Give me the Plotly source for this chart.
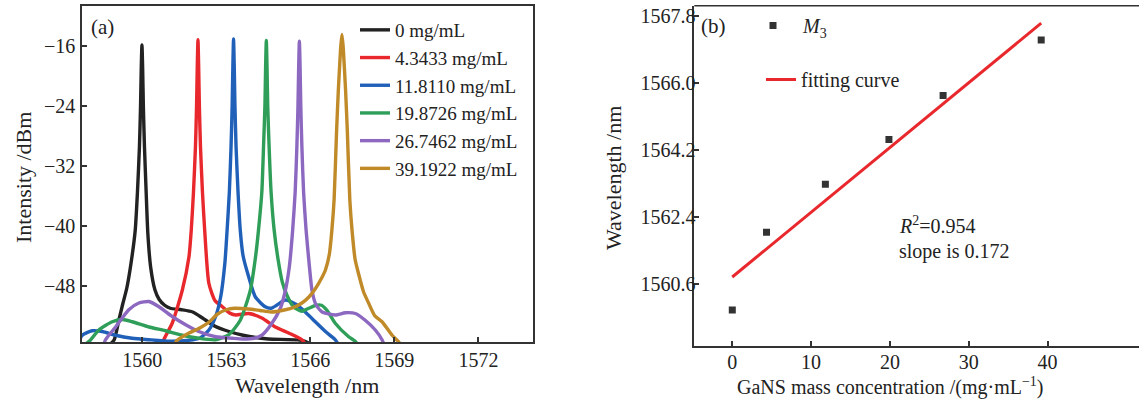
import numpy as np
import plotly.graph_objects as go

W, H = 1139, 401
FONT = "Liberation Serif"

# ---------------- panel (a): spectra ----------------
series_names = ["0 mg/mL", "4.3433 mg/mL", "11.8110 mg/mL", "19.8726 mg/mL", "26.7462 mg/mL", "39.1922 mg/mL"]
series_colors = ["#222222", "#e8282c", "#2060b8", "#2e9e58", "#8c68c0", "#c08a28"]

wl_0 = [1558.50, 1558.80, 1559.00, 1559.17, 1559.30, 1559.45, 1559.60, 1559.75, 1559.83, 1559.90, 1559.94, 1559.965,
        1559.99, 1560.015, 1560.04, 1560.08, 1560.14, 1560.20, 1560.30, 1560.45, 1560.60, 1560.80, 1561.00, 1561.40,
        1561.80, 1562.15, 1562.60, 1563.10, 1563.60, 1564.50, 1565.70, 1566.40]
int_0 = [-57.0, -56.0, -55.2, -52.5, -50.5, -48.3, -45.0, -40.6, -35.5, -29.5, -24.0, -19.0,
         -15.9, -19.0, -24.0, -29.5, -35.5, -41.0, -45.5, -48.5, -49.8, -50.6, -51.0, -51.2,
         -51.5, -52.3, -53.4, -54.1, -54.6, -55.1, -55.3, -56.5]

wl_1 = [1560.70, 1560.77, 1561.07, 1561.43, 1561.67, 1561.75, 1561.83, 1561.90, 1561.94, 1561.965, 1561.99,
        1562.015, 1562.04, 1562.08, 1562.15, 1562.23, 1562.38, 1562.60, 1562.86, 1563.10, 1563.33, 1563.80,
        1564.27, 1564.75, 1565.23, 1565.70, 1565.95]
int_1 = [-56.5, -55.2, -53.0, -48.6, -44.1, -40.6, -35.5, -29.5, -24.0, -18.8, -15.2,
         -18.8, -24.0, -29.5, -35.5, -40.6, -47.7, -50.0, -50.8, -51.6, -51.9, -51.7,
         -52.3, -53.5, -54.3, -55.2, -56.5]

wl_2 = [1557.70, 1557.86, 1558.21, 1558.57, 1559.05, 1559.64, 1560.24, 1561.00, 1561.60, 1562.05, 1562.38,
        1562.62, 1562.80, 1562.95, 1563.03, 1563.11, 1563.17, 1563.21, 1563.235, 1563.26, 1563.285, 1563.31,
        1563.35, 1563.42, 1563.50, 1563.60, 1563.80, 1564.04, 1564.39, 1564.60, 1564.80, 1565.10, 1565.30,
        1565.50, 1565.82, 1566.18, 1566.54, 1566.89, 1567.10]
int_2 = [-55.8, -54.6, -54.0, -54.1, -54.6, -55.0, -55.2, -55.4, -55.3, -55.0, -53.9,
         -52.1, -49.5, -45.0, -40.6, -35.5, -29.5, -24.0, -18.8, -15.1, -18.8, -24.0,
         -29.5, -35.5, -40.6, -44.0, -46.8, -49.5, -50.8, -51.0, -50.6, -49.9, -50.1,
         -50.5, -51.5, -52.8, -54.1, -55.2, -56.5]

wl_3 = [1557.90, 1558.14, 1558.45, 1558.93, 1559.30, 1559.64, 1560.24, 1560.83, 1561.43, 1562.02, 1562.62,
        1563.10, 1563.50, 1563.86, 1564.05, 1564.15, 1564.27, 1564.33, 1564.38, 1564.405, 1564.43, 1564.455,
        1564.48, 1564.53, 1564.60, 1564.71, 1564.85, 1565.00, 1565.17, 1565.40, 1565.70, 1565.95, 1566.20,
        1566.40, 1566.60, 1566.89, 1567.37, 1567.60, 1567.80]
int_3 = [-56.0, -55.3, -53.9, -52.8, -52.5, -52.8, -53.5, -54.0, -54.6, -55.0, -55.2,
         -54.5, -52.6, -48.6, -44.0, -40.6, -35.5, -29.5, -24.0, -18.8, -15.3, -18.8,
         -24.0, -29.5, -35.5, -40.6, -44.5, -47.5, -49.3, -50.8, -51.4, -51.0, -50.6,
         -50.6, -51.3, -53.0, -54.8, -55.4, -56.5]

wl_4 = [1558.60, 1558.69, 1559.05, 1559.52, 1559.88, 1560.24, 1560.60, 1561.07, 1561.55, 1562.02, 1562.62,
        1563.21, 1563.60, 1564.00, 1564.27, 1564.63, 1564.93, 1565.10, 1565.25, 1565.37, 1565.46, 1565.52,
        1565.56, 1565.585, 1565.61, 1565.635, 1565.66, 1565.70, 1565.76, 1565.85, 1565.97, 1566.06, 1566.20,
        1566.42, 1566.89, 1567.25, 1567.61, 1567.96, 1568.32, 1568.56, 1568.70]
int_4 = [-56.2, -55.2, -53.5, -51.2, -50.3, -50.1, -50.8, -52.1, -53.2, -54.1, -54.8,
         -55.0, -55.1, -55.0, -54.6, -53.0, -51.0, -48.8, -45.5, -40.6, -35.5, -29.5,
         -24.0, -18.8, -15.4, -18.8, -24.0, -29.5, -35.5, -40.6, -45.5, -48.6, -50.5,
         -51.5, -51.9, -51.6, -51.7, -52.6, -53.9, -55.2, -56.5]

wl_5 = [1561.10, 1561.24, 1561.67, 1562.07, 1562.40, 1562.68, 1563.00, 1563.30, 1563.80, 1564.21, 1564.60,
        1565.11, 1565.40, 1565.70, 1565.95, 1566.18, 1566.40, 1566.54, 1566.68, 1566.77, 1566.85, 1566.94,
        1567.00, 1567.05, 1567.09, 1567.13, 1567.17, 1567.21, 1567.26, 1567.32, 1567.41, 1567.49, 1567.60,
        1567.73, 1567.90, 1568.08, 1568.30, 1568.56, 1568.92, 1569.16, 1569.35]
int_5 = [-56.2, -55.3, -54.3, -53.6, -52.8, -51.8, -51.2, -51.0, -51.1, -51.3, -51.5,
         -51.2, -50.9, -50.3, -49.5, -48.4, -47.0, -45.9, -43.8, -40.6, -36.5, -27.2,
         -22.0, -18.5, -16.0, -14.5, -16.0, -18.5, -22.0, -27.2, -36.5, -40.6, -44.5,
         -46.5, -48.8, -50.3, -52.0, -52.8, -54.6, -55.5, -56.5]

spectra_wl = [wl_0, wl_1, wl_2, wl_3, wl_4, wl_5]
spectra_int = [int_0, int_1, int_2, int_3, int_4, int_5]

# ---------------- panel (b): peak shift ----------------
concentration = [0.0, 4.3433, 11.8110, 19.8726, 26.7462, 39.1922]
peak_wavelength = [1559.91, 1561.99, 1563.28, 1564.48, 1565.66, 1567.15]

a_tickvals = [-48, -40, -32, -24, -16]
a_xtickvals = [1560, 1563, 1566, 1569, 1572]
b_ytickvals = [1560.6, 1562.4, 1564.2, 1566.0, 1567.8]
b_xtickvals = [0, 10, 20, 30, 40]


def px(x):
    return x / W


def py(y):
    return 1 - y / H


fig = go.Figure()
for wl, it, nm, col in zip(spectra_wl, spectra_int, series_names, series_colors):
    fig.add_trace(go.Scatter(x=wl, y=it, mode="lines", name=nm,
                             line=dict(color=col, width=3.4, shape="spline", smoothing=0.6),
                             xaxis="x", yaxis="y", legend="legend"))

fig.add_trace(go.Scatter(x=concentration, y=peak_wavelength, mode="markers",
                         name="\u00a0\u00a0<i>M</i><sub>3</sub>",
                         marker=dict(symbol="square", size=7, color="#333333"),
                         xaxis="x2", yaxis="y2", legend="legend2"))

slope, intercept = np.polyfit(concentration, peak_wavelength, 1)
fit_x = [min(concentration), max(concentration)]
fit_y = [slope * v + intercept for v in fit_x]
fig.add_trace(go.Scatter(x=fit_x, y=fit_y, mode="lines", name="fitting curve",
                         line=dict(color="#e8282c", width=3),
                         xaxis="x2", yaxis="y2", legend="legend3"))

axis_common = dict(showline=True, linecolor="#333333", linewidth=1.5, ticks="inside", ticklen=5,
                   tickwidth=1.5, tickcolor="#333333", showgrid=False, zeroline=False,
                   tickfont=dict(family=FONT, size=20, color="#222222"))

leg_font = dict(family=FONT, size=19, color="#222222")

fig.update_layout(
    width=W, height=H,
    margin=dict(l=0, r=0, t=0, b=0),
    paper_bgcolor="white", plot_bgcolor="white",
    xaxis=dict(domain=[px(82), px(533)], range=[1557.85, 1573.95], tickvals=a_xtickvals,
               mirror=True, anchor="y", ticklabelstandoff=-1, **axis_common),
    yaxis=dict(domain=[py(342), py(6)], range=[-55.5, -10.7], tickvals=a_tickvals,
               mirror=True, anchor="x", ticklabelstandoff=1, **axis_common),
    xaxis2=dict(domain=[px(694.3), 1.0], range=[-4.82, 51.6], tickvals=b_xtickvals,
                mirror=False, anchor="y2", ticklabelstandoff=-2, **axis_common),
    yaxis2=dict(domain=[py(345.7), py(5.7)], range=[1558.95, 1568.07], tickvals=b_ytickvals,
                tickformat=".1f", mirror=False, anchor="x2", ticklabelstandoff=-7, **axis_common),
    legend=dict(x=px(355), y=py(11), xanchor="left", yanchor="top", bgcolor="rgba(0,0,0,0)",
                font=leg_font, tracegroupgap=0),
    legend2=dict(x=px(753), y=py(6), xanchor="left", yanchor="top", bgcolor="rgba(0,0,0,0)",
                 font=dict(family=FONT, size=20, color="#222222")),
    legend3=dict(x=px(761), y=py(60), xanchor="left", yanchor="top", bgcolor="rgba(0,0,0,0)",
                 font=dict(family=FONT, size=20, color="#222222")),
    showlegend=True,
    # top frame of panel (b); its right frame lies beyond the picture edge in the reference
    shapes=[dict(type="line", xref="x2 domain", yref="y2 domain", x0=0, x1=1, y0=1, y1=1,
                 line=dict(color="#333333", width=1.5))],
)

ann_font = dict(family=FONT, size=22, color="#222222")
annotations = [
    dict(text="(a)", x=px(89), y=py(27), xanchor="left", yanchor="middle", font=dict(family=FONT, size=21, color="#222222")),
    dict(text="(b)", x=px(699), y=py(26), xanchor="left", yanchor="middle", font=dict(family=FONT, size=21, color="#222222")),
    dict(text="Wavelength /nm", x=px(307), y=py(385), xanchor="center", yanchor="middle", font=ann_font),
    dict(text="Intensity /dBm", x=px(23), y=py(178), xanchor="center", yanchor="middle", textangle=-90, font=ann_font),
    dict(text="Wavelength /nm", x=px(613), y=py(178), xanchor="center", yanchor="middle", textangle=-90, font=ann_font),
    dict(text="GaNS mass concentration /(mg·mL<sup>−1</sup>)", x=px(890), y=py(386), xanchor="center",
         yanchor="middle", font=dict(family=FONT, size=20, color="#222222")),
    dict(text="<i>R</i><sup>2</sup>=0.954", x=px(897), y=py(225), xanchor="left", yanchor="middle",
         font=dict(family=FONT, size=20, color="#222222")),
    dict(text="slope is 0.172", x=px(897), y=py(251), xanchor="left", yanchor="middle",
         font=dict(family=FONT, size=20, color="#222222")),
]
for a in annotations:
    a.update(xref="paper", yref="paper", showarrow=False)
fig.update_layout(annotations=annotations)

fig.write_html("out.html", config={"displayModeBar": False},
               post_script="document.body.style.margin='0px';document.body.style.overflow='hidden';")
